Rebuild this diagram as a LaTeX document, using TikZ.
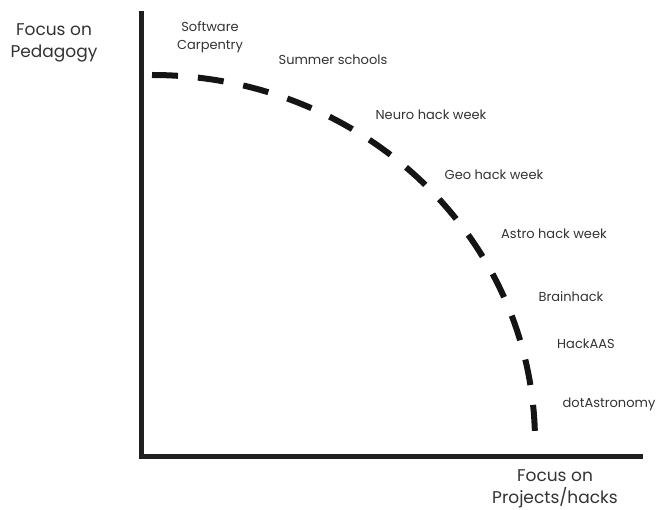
\documentclass[tikz,border=0pt]{standalone}
\usepackage{fontspec}
\setmainfont{Poppins}
\begin{document}
\begin{tikzpicture}[x=1pt,y=-1pt,
  lbl/.style={font=\fontsize{13}{18}\selectfont, text=black!80, inner sep=0pt, align=center},
  axlbl/.style={font=\fontsize{17}{22}\selectfont, text=black!80, inner sep=0pt, align=center},
  axis/.style={line width=5pt, draw=black!88, line join=miter},
  frontier/.style={line width=6pt, draw=black!92, dash pattern=on 26pt off 20pt}]
\useasboundingbox[fill=white] (0,0) rectangle (660,510);
\coordinate (top) at (141,11);
\coordinate (origin) at (141,456);
\coordinate (right) at (643,456);
\coordinate (fstart) at (152,75);
\draw[axis] (top) -- (origin) -- (right);
\draw[frontier] (fstart) arc[start angle=90, end angle=0, x radius=383pt, y radius=367pt];
\node[axlbl] (ped) at (54,43) {Focus on\\Pedagogy};
\node[axlbl] (proj) at (555,489) {Focus on\\Projects/hacks};
\node[lbl] (swc) at (210,37) {Software\\Carpentry};
\node[lbl] (summer) at (333,60) {Summer schools};
\node[lbl] (neuro) at (431,115) {Neuro hack week};
\node[lbl] (geo) at (494,175) {Geo hack week};
\node[lbl] (astro) at (554,234) {Astro hack week};
\node[lbl] (brain) at (571,297) {Brainhack};
\node[lbl] (aas) at (586,344) {HackAAS};
\node[lbl] (dot) at (609,404) {dotAstronomy};
\end{tikzpicture}
\end{document}
